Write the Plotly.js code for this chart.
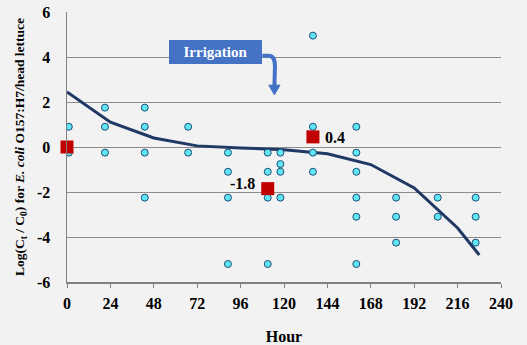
<!DOCTYPE html>
<html>
<head>
<meta charset="utf-8">
<script src="https://cdn.plot.ly/plotly-3.0.1.min.js"></script>
<style>html,body{margin:0;padding:0;background:#f2f2f2;}#chart{width:527px;height:345px;}</style>
</head>
<body>
<div id="chart"></div>
<script>
// Observed data (hour, log reduction)
var obsHours = [1,1, 21,21,21, 43,43,43,43, 67,67, 89,89,89,89, 111,111,111,111, 118,118,118,118, 136,136,136,136, 160,160,160,160,160,160, 182,182,182, 205,205, 226,226,226];
var obsValues = [0.9,-0.25, 1.75,0.9,-0.25, 1.75,0.9,-0.25,-2.25, 0.9,-0.25, -0.25,-1.1,-2.25,-5.2, -0.25,-1.1,-2.25,-5.2, -0.25,-0.76,-1.1,-2.25, 4.95,0.9,-0.25,-1.1, 0.9,-0.25,-1.1,-2.25,-3.1,-5.2, -2.25,-3.1,-4.25, -2.25,-3.1, -2.25,-3.1,-4.25];
// Fitted curve
var fitHours = [0,24,48,72,96,120,144,168,192,216,228];
var fitValues = [2.45,1.1,0.4,0.05,-0.04,-0.12,-0.3,-0.78,-1.82,-3.6,-4.8];
// Highlighted points
var redHours = [0,111,136];
var redValues = [0,-1.85,0.45];
var redLabels = ['', '-1.8', '0.4'];
var xTicks = [0,24,48,72,96,120,144,168,192,216,240];
var yTicks = [-6,-4,-2,0,2,4,6];

var serif = '"Liberation Serif", "Times New Roman", serif';
function bf(size, color){ return {family: serif, size: size, color: color || '#000', weight: 'bold'}; }

var traces = [
  {x: fitHours, y: fitValues, mode: 'lines', type: 'scatter',
   line: {color: '#1f3864', width: 3}, hoverinfo: 'skip'},
  {x: obsHours, y: obsValues, mode: 'markers', type: 'scatter',
   marker: {color: '#5ee6f5', size: 7, line: {color: '#1f4e79', width: 1}}},
  {x: redHours, y: redValues, mode: 'markers', type: 'scatter', cliponaxis: false,
   marker: {color: '#c00000', symbol: 'square', size: 13, line: {width: 0}}}
];

var annotations = [];
redLabels.forEach(function(t, i){
  if (!t) return;
  var left = redValues[i] < 0;
  annotations.push({x: redHours[i], y: redValues[i], xref: 'x', yref: 'y', text: t, showarrow: false,
    xanchor: left ? 'right' : 'left', xshift: left ? -11 : 10, yshift: left ? 5 : -1,
    font: bf(16)});
});
annotations.push({x: 82.2, y: 4.23, xref: 'x', yref: 'y', text: 'Irrigation', showarrow: false,
  bgcolor: '#4472c4', width: 89, height: 20, borderpad: 2, borderwidth: 0,
  font: bf(15, '#ffffff')});

var shapes = [
  {type: 'path', xref: 'x', yref: 'y', path: 'M 108,4.06 L 111.5,4.06 Q 115,4.06 115,3.6 L 114.7,2.7',
   line: {color: '#4472c4', width: 4}},
  {type: 'path', xref: 'x', yref: 'y', path: 'M 111.6,2.75 L 117.8,2.75 L 114.7,2.32 Z',
   fillcolor: '#4472c4', line: {color: '#4472c4', width: 1}}
];

var layout = {
  width: 527, height: 345,
  margin: {l: 67, r: 26, t: 12, b: 63},
  paper_bgcolor: '#f2f2f2', plot_bgcolor: '#f2f2f2',
  showlegend: false,
  font: {family: serif, color: '#000'},
  xaxis: {range: [0, 240], tickvals: xTicks, ticktext: xTicks.map(String),
    showgrid: false, zeroline: false, showline: true, linecolor: '#808080', linewidth: 1.5,
    ticks: 'outside', ticklen: 4, tickcolor: '#808080', tickfont: bf(16), ticklabelstandoff: 2,
    title: {text: 'Hour', font: bf(16), standoff: 20}},
  yaxis: {range: [-6, 6], tickvals: yTicks, ticktext: yTicks.map(String),
    showgrid: true, gridcolor: '#8c8c8c', gridwidth: 1, zeroline: false,
    showline: true, linecolor: '#808080', linewidth: 1.5, ticks: '', tickfont: bf(16), ticklabelstandoff: 12,
    title: {text: 'Log(C<sub>t</sub> / C<sub>0</sub>) for <i>E. coli</i> O157:H7/head lettuce', font: bf(13.5), standoff: 9}},
  annotations: annotations,
  shapes: shapes
};

Plotly.newPlot('chart', traces, layout, {staticPlot: true});
</script>
</body>
</html>
